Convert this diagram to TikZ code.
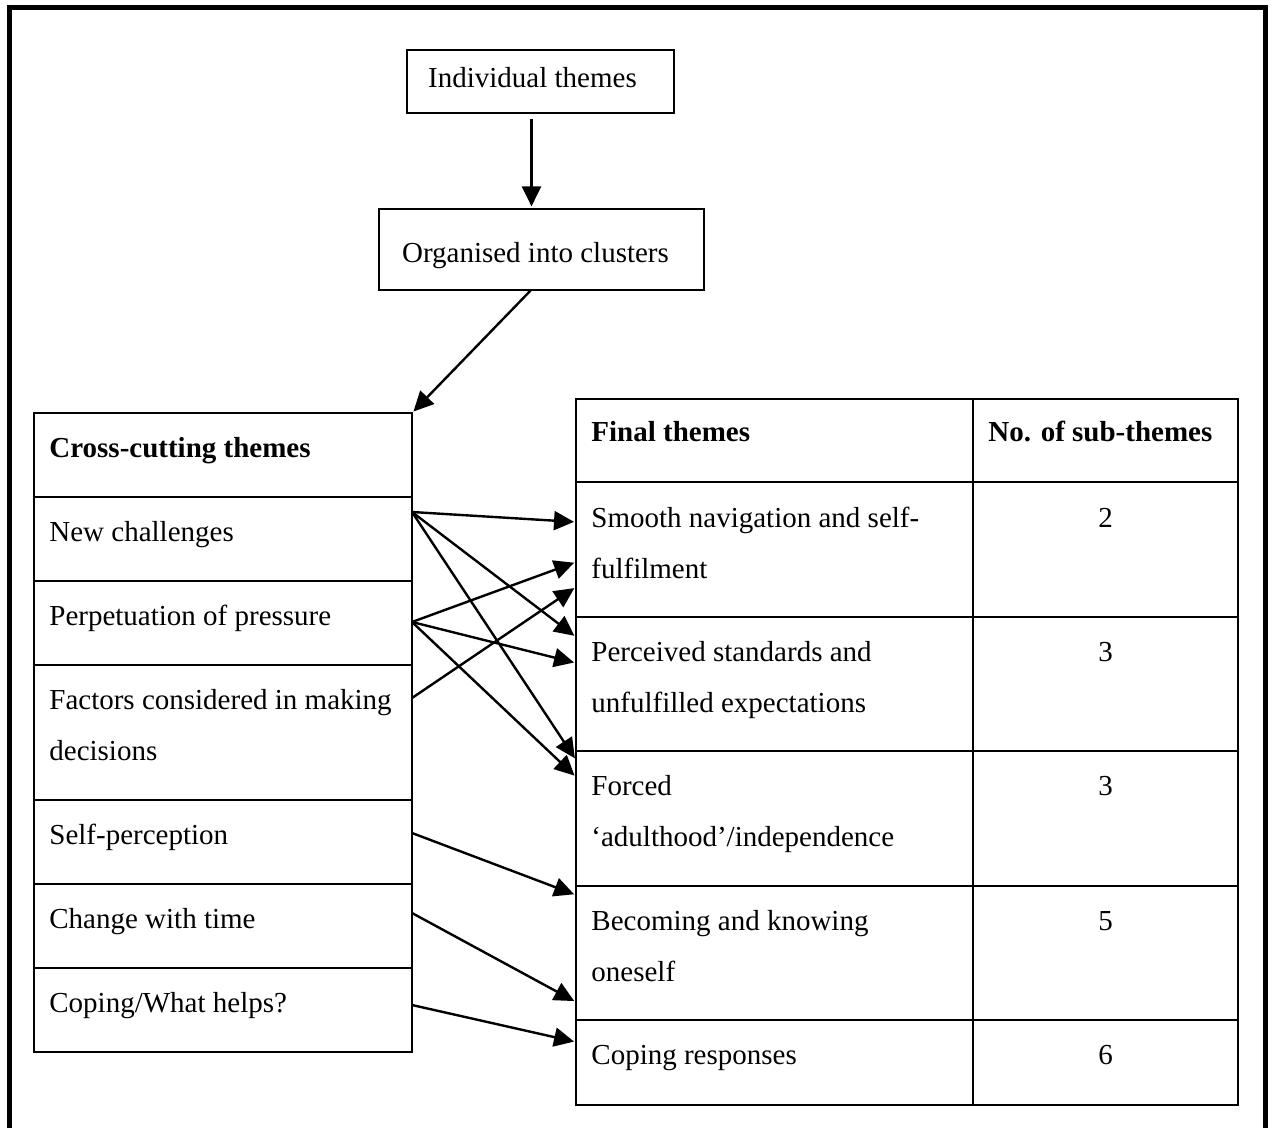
\documentclass[tikz,border=0pt]{standalone}
\usepackage{fontspec}
\setmainfont{Liberation Serif}
\usetikzlibrary{arrows.meta,calc}
\tikzset{
  box/.style={draw, line width=0.6pt},
  cell/.style={draw, line width=0.9pt, anchor=north west, inner sep=0pt, outer sep=0pt},
  txt/.style={anchor=base west, align=left, inner sep=0pt},
  num/.style={anchor=base, inner sep=0pt},
  link/.style={line width=1.2pt, shorten >=1pt, -{Triangle[length=10pt,width=9.5pt]}}
}
\begin{document}
\begin{tikzpicture}[x=0.5pt, y=-0.5pt, font=\fontsize{14.5pt}{25.5pt}\selectfont]
  \useasboundingbox (0,0) rectangle (1272,1128);
  \draw[line width=2.4pt] (9.5,1128) -- (9.5,7.5) -- (1265.5,7.5) -- (1265.5,1128);

  % top of the flow
  \node[box, minimum width=133.5pt, minimum height=31.5pt, text height=10pt, text depth=3.5pt]
    (indiv) at (540.5,81.5) {\hspace*{-4pt}Individual themes\hspace*{4pt}};
  \node[box, minimum width=162.5pt, minimum height=40.5pt, text height=13.5pt, text depth=0pt]
    (clust) at (541.5,249.5) {\hspace*{-3pt}Organised into clusters\hspace*{3pt}};

  % cross-cutting themes
  \node[cell, minimum width=189pt, minimum height=42pt] (cc0) at (34,413) {};
  \node[cell, minimum width=189pt, minimum height=42pt] (cc1) at (34,497) {};
  \node[cell, minimum width=189pt, minimum height=42pt] (cc2) at (34,581) {};
  \node[cell, minimum width=189pt, minimum height=67.5pt] (cc3) at (34,665) {};
  \node[cell, minimum width=189pt, minimum height=42pt] (cc4) at (34,800) {};
  \node[cell, minimum width=189pt, minimum height=42pt] (cc5) at (34,884) {};
  \node[cell, minimum width=189pt, minimum height=42pt] (cc6) at (34,968) {};
  \node[txt] (cctitle) at ($(cc0.north west)+(15,44)$) {\textbf{Cross-cutting themes}};
  \node[txt] (cctext1) at ($(cc1.north west)+(15,44)$) {New challenges};
  \node[txt] (cctext2) at ($(cc2.north west)+(15,44)$) {Perpetuation of pressure};
  % two lines: the base is on the last line
  \node[txt] (cctext3) at ($(cc3.north west)+(15,95)$) {Factors considered in making\\decisions};
  \node[txt] (cctext4) at ($(cc4.north west)+(15,44)$) {Self-perception};
  \node[txt] (cctext5) at ($(cc5.north west)+(15,44)$) {Change with time};
  \node[txt] (cctext6) at ($(cc6.north west)+(15,44)$) {Coping/What helps?};

  % final themes
  \node[cell, minimum width=198.5pt, minimum height=41.5pt] (ft0) at (576,399) {};
  \node[cell, minimum width=198.5pt, minimum height=67.5pt] (ft1) at (576,482) {};
  \node[cell, minimum width=198.5pt, minimum height=67pt] (ft2) at (576,617) {};
  \node[cell, minimum width=198.5pt, minimum height=67.5pt] (ft3) at (576,751) {};
  \node[cell, minimum width=198.5pt, minimum height=67pt] (ft4) at (576,886) {};
  \node[cell, minimum width=198.5pt, minimum height=42.5pt] (ft5) at (576,1020) {};
  \node[cell, minimum width=132.5pt, minimum height=41.5pt] (nf0) at (973,399) {};
  \node[cell, minimum width=132.5pt, minimum height=67.5pt] (nf1) at (973,482) {};
  \node[cell, minimum width=132.5pt, minimum height=67pt] (nf2) at (973,617) {};
  \node[cell, minimum width=132.5pt, minimum height=67.5pt] (nf3) at (973,751) {};
  \node[cell, minimum width=132.5pt, minimum height=67pt] (nf4) at (973,886) {};
  \node[cell, minimum width=132.5pt, minimum height=42.5pt] (nf5) at (973,1020) {};
  \node[txt] (fttitle) at ($(ft0.north west)+(15,42)$) {\textbf{Final themes}};
  \node[txt] (nftitle) at ($(nf0.north west)+(15,42)$) {\textbf{No. of sub-themes}};
  \node[txt] (fttext1) at ($(ft1.north west)+(15,96)$) {Smooth navigation and self-\\fulfilment};
  \node[txt] (fttext2) at ($(ft2.north west)+(15,95)$) {Perceived standards and\\unfulfilled expectations};
  \node[txt] (fttext3) at ($(ft3.north west)+(15,95)$) {Forced\\‘adulthood’/independence};
  \node[txt] (fttext4) at ($(ft4.north west)+(15,95)$) {Becoming and knowing\\oneself};
  \node[txt] (fttext5) at ($(ft5.north west)+(15,44)$) {Coping responses};
  \node[num] (nftext1) at ($(nf1.north)+(0,45)$) {2};
  \node[num] (nftext2) at ($(nf2.north)+(0,44)$) {3};
  \node[num] (nftext3) at ($(nf3.north)+(0,44)$) {3};
  \node[num] (nftext4) at ($(nf4.north)+(0,44)$) {5};
  \node[num] (nftext5) at ($(nf5.north)+(0,44)$) {6};

  % arrow ends
  \coordinate (nc) at ($(cc1.north east)+(0,15)$);
  \coordinate (pp) at ($(cc2.north east)+(0,41)$);
  \coordinate (fc) at ($(cc3.north east)+(0,33)$);
  \coordinate (sp) at ($(cc4.north east)+(0,33)$);
  \coordinate (ct) at ($(cc5.north east)+(0,29)$);
  \coordinate (cw) at ($(cc6.north east)+(0,37)$);
  \coordinate (sn1) at ($(ft1.north west)+(0,40)$);
  \coordinate (sn2) at ($(ft1.north west)+(0,80)$);
  \coordinate (sn3) at ($(ft1.north west)+(0,105)$);
  \coordinate (ps1) at ($(ft2.north west)+(0,20)$);
  \coordinate (ps2) at ($(ft2.north west)+(0,46)$);
  \coordinate (fa1) at ($(ft3.north west)+(0,9)$);
  \coordinate (fa2) at ($(ft3.north west)+(0,26)$);
  \coordinate (bk1) at ($(ft4.north west)+(0,9)$);
  \coordinate (bk2) at ($(ft4.north west)+(0,116)$);
  \coordinate (cr1) at ($(ft5.north west)+(0,22)$);

  \begin{scope}[link]
    \draw ([xshift=-4.5pt]indiv.south) ++(0,5) -- ([xshift=-4.5pt]indiv.south |- clust.north);
    \draw ([xshift=-5.5pt]clust.south) -- (cc0.north east);
    \draw (nc) to (sn1);
    \draw (nc) to (ps1);
    \draw (nc) to (fa1);
    \draw (pp) to (sn2);
    \draw (pp) to (ps2);
    \draw (pp) to (fa2);
    \draw (fc) to (sn3);
    \draw (sp) to (bk1);
    \draw (ct) to (bk2);
    \draw (cw) to (cr1);
  \end{scope}
\end{tikzpicture}
\end{document}
